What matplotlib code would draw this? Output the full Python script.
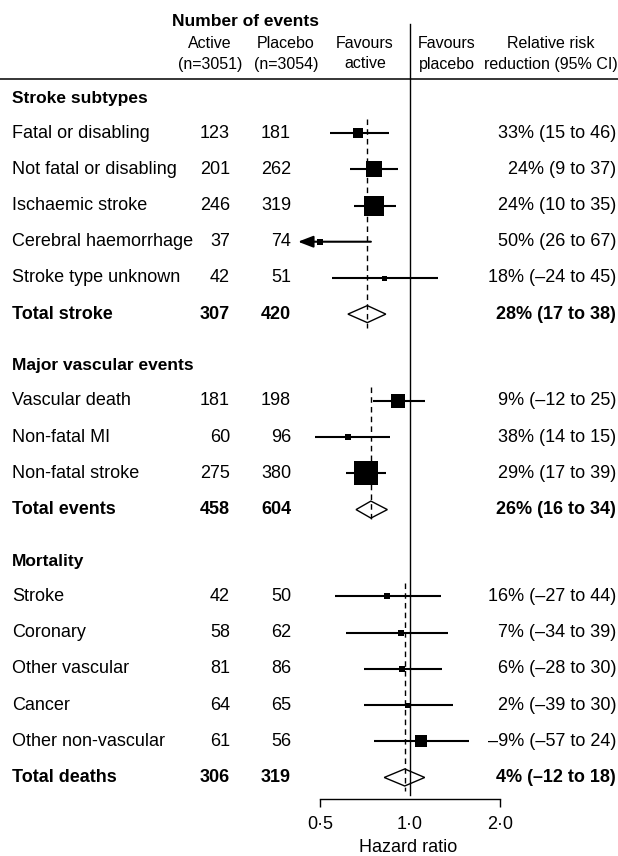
import matplotlib
matplotlib.use("Agg")
import matplotlib.pyplot as plt
from matplotlib.lines import Line2D
from matplotlib.ticker import NullLocator
from matplotlib.transforms import blended_transform_factory
import numpy as np

plt.rcParams['font.family'] = ['Liberation Sans', 'DejaVu Sans']

sections = ["Stroke subtypes", "Major vascular events", "Mortality"]

outcomes = [
    ["Fatal or disabling", "Not fatal or disabling", "Ischaemic stroke",
     "Cerebral haemorrhage", "Stroke type unknown", "Total stroke"],
    ["Vascular death", "Non-fatal MI", "Non-fatal stroke", "Total events"],
    ["Stroke", "Coronary", "Other vascular", "Cancer", "Other non-vascular",
     "Total deaths"],
]
active_events = [[123, 201, 246, 37, 42, 307],
                 [181, 60, 275, 458],
                 [42, 58, 81, 64, 61, 306]]
placebo_events = [[181, 262, 319, 74, 51, 420],
                  [198, 96, 380, 604],
                  [50, 62, 86, 65, 56, 319]]

# relative risk reduction (%) and its 95% CI; hazard ratio = 1 - rrr/100
rrr = [[33, 24, 24, 50, 18, 28],
       [9, 38, 29, 26],
       [16, 7, 6, 2, -9, 4]]
rrr_low = [[15, 9, 10, 26, -24, 17],
           [-12, 14, 17, 16],
           [-27, -34, -28, -39, -57, -12]]
rrr_high = [[46, 37, 35, 67, 45, 38],
            [25, 52, 39, 34],
            [44, 39, 30, 30, 24, 18]]
rrr_text = [
    ["33% (15 to 46)", "24% (9 to 37)", "24% (10 to 35)", "50% (26 to 67)",
     "18% (\u201324 to 45)", "28% (17 to 38)"],
    ["9% (\u201312 to 25)", "38% (14 to 15)", "29% (17 to 39)", "26% (16 to 34)"],
    ["16% (\u201327 to 44)", "7% (\u201334 to 39)", "6% (\u201328 to 30)",
     "2% (\u201339 to 30)", "\u20139% (\u201357 to 24)", "4% (\u201312 to 18)"],
]
# weight of each estimate, drawn as the side of the square (points)
weight = [[7.2, 12.2, 15.1, 4.8, 3.6],
          [10.1, 4.8, 16.6],
          [4.1, 4.1, 4.8, 3.6, 8.4]]

W, H = 618, 856
ROW = 36.2          # row pitch in pixels
Y0 = 98             # first section header, pixels from top


def u(py):
    # pixel row from the top -> row units used on the y axis
    return (py - Y0) / ROW


def hr_at(px):
    # pixel column -> hazard ratio (0.5 at 320 px, 2.0 at 500 px)
    return 2 ** ((px - 410) / 90)


fig = plt.figure(figsize=(W / 100, H / 100), dpi=100)
ax_l, ax_r, ax_t, ax_b = 280, 540, 24, 799
ax = fig.add_axes([ax_l / W, 1 - ax_b / H, (ax_r - ax_l) / W, (ax_b - ax_t) / H])
ax.set_xscale('log', base=2)
ax.set_xlim(hr_at(ax_l), hr_at(ax_r))
ax.set_ylim(u(ax_b), u(ax_t))
ax.patch.set_visible(False)
for side in ['top', 'left', 'right']:
    ax.spines[side].set_visible(False)
ax.spines['bottom'].set_bounds(0.5, 2.0)
ax.spines['bottom'].set_linewidth(1.0)
ax.set_yticks([])
ax.set_xticks([0.5, 1, 2])
ax.set_xticklabels(["0\u00b75", "1\u00b70", "2\u00b70"], fontsize=13)
ax.xaxis.set_minor_locator(NullLocator())
ax.tick_params(axis='x', direction='out', length=6, width=1.0, pad=6)
ax.xaxis.get_major_ticks()[1].tick1line.set_visible(False)

# line of no effect
ax.plot([1, 1], [u(ax_t), u(795)], color='k', lw=1.0, clip_on=False, zorder=2)

# text columns: x in inches from the left edge, y in row units
tx = blended_transform_factory(fig.dpi_scale_trans, ax.transData)
x_label, x_active, x_placebo, x_rrr = 0.12, 2.30, 2.91, 6.16
x_clip = hr_at(298)

y = 0.0
for s, name in enumerate(sections):
    ax.text(x_label, y, name, transform=tx, fontsize=12.5, fontweight='bold',
            ha='left', va='center')
    n = len(outcomes[s])
    rows = y + 0.97 + np.arange(n)
    hr = 1 - np.array(rrr[s]) / 100
    hr_lo = 1 - np.array(rrr_high[s]) / 100
    hr_hi = 1 - np.array(rrr_low[s]) / 100
    for i in range(n):
        yy = rows[i]
        total = i == n - 1
        fw = 'bold' if total else 'normal'
        ax.text(x_label, yy, outcomes[s][i], transform=tx, fontsize=13,
                fontweight=fw, ha='left', va='center')
        ax.text(x_active, yy, str(active_events[s][i]), transform=tx,
                fontsize=13, fontweight=fw, ha='right', va='center')
        ax.text(x_placebo, yy, str(placebo_events[s][i]), transform=tx,
                fontsize=13, fontweight=fw, ha='right', va='center')
        ax.text(x_rrr, yy, rrr_text[s][i], transform=tx, fontsize=13,
                fontweight=fw, ha='right', va='center')
        if total:
            h = 0.235
            ax.fill([hr_lo[i], hr[i], hr_hi[i], hr[i]], [yy, yy - h, yy, yy + h],
                    facecolor='white', edgecolor='k', lw=1.0, zorder=1)
            ax.plot([hr[i], hr[i]], [rows[0] - 0.38, yy + 0.38], color='k',
                    lw=1.0, dashes=(4, 3), zorder=2)
        else:
            if hr_lo[i] < x_clip:
                ax.annotate('', xy=(x_clip, yy), xytext=(hr_hi[i], yy),
                            arrowprops=dict(arrowstyle='-|>,head_length=0.65,head_width=0.25',
                                            color='k', lw=1.5, mutation_scale=14,
                                            shrinkA=0, shrinkB=0), zorder=3)
            else:
                ax.plot([hr_lo[i], hr_hi[i]], [yy, yy], color='k', lw=1.5,
                        solid_capstyle='butt', zorder=3)
            ax.plot(hr[i], yy, marker='s', color='k', markersize=weight[s][i],
                    markeredgewidth=0, zorder=4)
    y = rows[-1] + 1.43

# column headings
def head(px, py, s, **kw):
    fig.text(px / W, 1 - py / H, s, ha='center', va='center', **kw)

head(246, 21, "Number of events", fontsize=12.5, fontweight='bold')
head(210, 43, "Active", fontsize=11.5)
head(210, 64, "(n=3051)", fontsize=11.5)
head(286, 43, "Placebo", fontsize=11.5)
head(286, 64, "(n=3054)", fontsize=11.5)
head(365, 43, "Favours", fontsize=11.5)
head(365, 64, "active", fontsize=11.5)
head(447, 43, "Favours", fontsize=11.5)
head(447, 64, "placebo", fontsize=11.5)
head(551, 43, "Relative risk", fontsize=11.5)
head(551, 64, "reduction (95% CI)", fontsize=11.5)
head(408, 848, "Hazard ratio", fontsize=13)

fig.add_artist(Line2D([0, 1], [1 - 79 / H] * 2, color='k', lw=1.1,
                      transform=fig.transFigure))

fig.savefig("out.png", dpi=100, facecolor='white')
